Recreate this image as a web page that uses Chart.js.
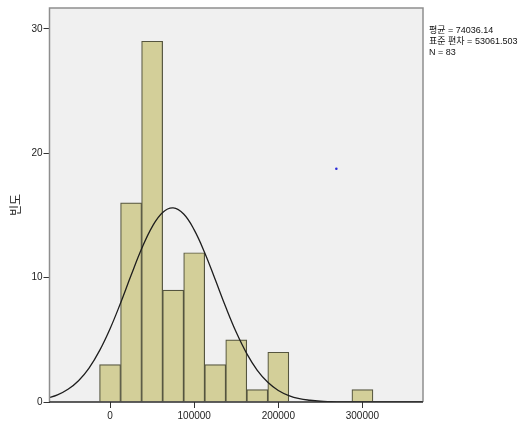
<!DOCTYPE html>
<html lang="ko">
<head>
    <meta charset="UTF-8">
    <title>빈도 히스토그램</title>
    <script src="https://cdn.jsdelivr.net/npm/chart.js"></script>
    <style>
        html, body { margin: 0; padding: 0; background: #ffffff; }
        canvas { display: block; }
    </style>
</head>
<body>
    <canvas id="histChart" width="532" height="421"></canvas>

    <script>
        // histogram bins (centre of each bin) and counts
        const binCenters = [0, 25000, 50000, 75000, 100000, 125000, 150000, 175000, 200000, 300000];
        const binCounts  = [3, 16, 29, 9, 12, 3, 5, 1, 4, 1];

        // normal curve
        const curveX = [-75000, -62500, -50000, -37500, -25000, -12500, 0, 12500, 25000, 37500, 50000, 62500,
                        75000, 87500, 100000, 112500, 125000, 137500, 150000, 162500, 175000, 187500, 200000,
                        212500, 225000, 237500, 250000, 262500, 275000, 287500, 300000, 325000, 350000, 375000];
        const curveY = [0.30, 0.57, 1.02, 1.71, 2.73, 4.13, 5.89, 7.96, 10.18, 12.31, 14.08, 15.24,
                        15.60, 15.11, 13.84, 12.00, 9.84, 7.63, 5.60, 3.89, 2.55, 1.59, 0.93,
                        0.52, 0.27, 0.14, 0.06, 0.03, 0.01, 0.005, 0.002, 0, 0, 0];

        // stray dot in the plot
        const dotPoints = [{ x: 269000, y: 18.75 }];

        const xTicks = [0, 100000, 200000, 300000];
        const yTicks = [0, 10, 20, 30];

        const statsLines = ['평균 = 74036.14', '표준 편차 = 53061.503', 'N = 83'];
        const yTitle = '빈도';

        const fontFamily = "'Liberation Sans', 'Noto Sans CJK KR', sans-serif";

        const plotFrame = {
            id: 'plotFrame',
            beforeDraw(chart) {
                const { ctx, chartArea: a } = chart;
                ctx.save();
                ctx.fillStyle = '#f0f0f0';
                ctx.fillRect(a.left, a.top, a.right - a.left, a.bottom - a.top);
                ctx.restore();
            },
            afterDraw(chart) {
                const { ctx, chartArea: a } = chart;
                ctx.save();
                ctx.strokeStyle = '#8e8e8e';
                ctx.lineWidth = 1.5;
                ctx.beginPath();
                ctx.moveTo(a.left, a.bottom);
                ctx.lineTo(a.left, a.top);
                ctx.lineTo(a.right, a.top);
                ctx.lineTo(a.right, a.bottom);
                ctx.stroke();
                ctx.strokeStyle = '#2a2a2a';
                ctx.beginPath();
                ctx.moveTo(a.left, a.bottom);
                ctx.lineTo(a.right, a.bottom);
                ctx.stroke();

                // stats box text
                ctx.fillStyle = '#111111';
                ctx.font = '9px ' + fontFamily;
                ctx.textBaseline = 'middle';
                statsLines.forEach((t, i) => ctx.fillText(t, a.right + 6, 31 + i * 10.7));
                ctx.restore();
            }
        };

        const ctx = document.getElementById('histChart').getContext('2d');
        const chart = new Chart(ctx, {
            type: 'bar',
            data: {
                datasets: [
                    {
                        type: 'scatter',
                        data: dotPoints,
                        pointRadius: 1.3,
                        pointBackgroundColor: '#2b2bd8',
                        pointBorderWidth: 0,
                        order: 0
                    },
                    {
                        type: 'line',
                        data: curveX.map((x, i) => ({ x: x, y: curveY[i] })),
                        borderColor: '#1e1e1e',
                        borderWidth: 1.3,
                        pointRadius: 0,
                        tension: 0.4,
                        fill: false,
                        order: 1
                    },
                    {
                        type: 'bar',
                        data: binCenters.map((x, i) => ({ x: x, y: binCounts[i] })),
                        backgroundColor: '#d3cf99',
                        borderColor: '#55553f',
                        borderWidth: 1.2,
                        barPercentage: 1.0,
                        categoryPercentage: 1.0,
                        grouped: false,
                        order: 2
                    }
                ]
            },
            options: {
                responsive: false,
                animation: false,
                layout: { padding: { top: 8, right: 109, bottom: 0, left: 0 } },
                plugins: {
                    legend: { display: false },
                    tooltip: { enabled: false }
                },
                scales: {
                    x: {
                        type: 'linear',
                        min: -72000,
                        max: 372000,
                        offset: false,
                        grid: { display: true, drawOnChartArea: false, drawTicks: true, tickLength: 6, color: '#333333', offset: false },
                        border: { display: false },
                        afterBuildTicks: s => { s.ticks = xTicks.map(v => ({ value: v })); },
                        afterFit: s => { s.height = 19; },
                        ticks: {
                            autoSkip: false,
                            maxRotation: 0,
                            padding: 2,
                            color: '#222222',
                            font: { family: fontFamily, size: 10 },
                            callback: v => String(v)
                        }
                    },
                    y: {
                        type: 'linear',
                        min: 0,
                        max: 31.67,
                        grid: { display: true, drawOnChartArea: false, drawTicks: true, tickLength: 6, color: '#333333' },
                        border: { display: false },
                        afterBuildTicks: s => { s.ticks = yTicks.map(v => ({ value: v })); },
                        afterFit: s => { s.width = 49.5; },
                        title: {
                            display: true,
                            text: yTitle,
                            color: '#222222',
                            font: { family: fontFamily, size: 12 },
                            padding: { top: 9, bottom: 0 }
                        },
                        ticks: {
                            padding: 1,
                            color: '#222222',
                            font: { family: fontFamily, size: 10 }
                        }
                    }
                }
            },
            plugins: [plotFrame]
        });
    </script>
</body>
</html>
